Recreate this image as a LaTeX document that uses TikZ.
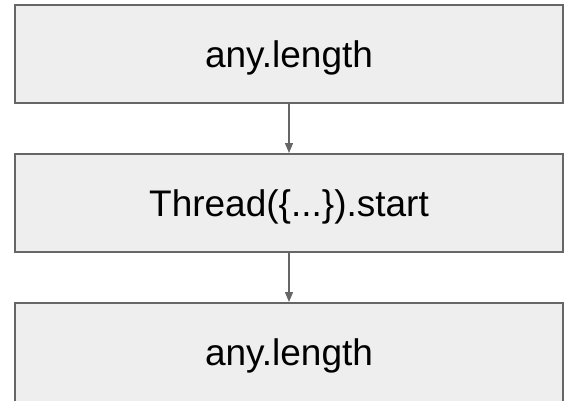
\documentclass[tikz,border=0pt]{standalone}
\usepackage{fontspec}
\setmainfont{Liberation Sans}
\usetikzlibrary{arrows.meta}
\definecolor{boxfill}{HTML}{EEEEEE}
\definecolor{boxline}{HTML}{666666}
\tikzset{
  stepbox/.style={draw=boxline, fill=boxfill, line width=2bp, rectangle,
    minimum width=548bp, minimum height=98bp, inner sep=0pt,
    text height=26.5bp, text depth=0pt,
    font=\fontsize{37bp}{44bp}\selectfont},
  flow/.style={draw=boxline, line width=1.3bp,
    -{Triangle[length=10bp,width=8bp]}}
}
\begin{document}
\begin{tikzpicture}[x=1bp,y=-1bp]
  \useasboundingbox (0,0) rectangle (564,400);
  \clip (0,0) rectangle (564,400);
  \node[stepbox] (first)  at (289,54)  {any.length};
  \node[stepbox] (thread) at (289,203) {Thread(\{...\}).start};
  % the last box runs past the lower edge of the page
  \node[stepbox, minimum height=104bp, text depth=0pt] (last) at (289,355) {};
  \node[font=\fontsize{37bp}{44bp}\selectfont, inner sep=0pt,
        text height=26.5bp, text depth=0pt] (lastlabel) at (289,352) {any.length};
  \draw[flow] (first) -- (thread);
  \draw[flow] (thread) -- (last);
\end{tikzpicture}
\end{document}
